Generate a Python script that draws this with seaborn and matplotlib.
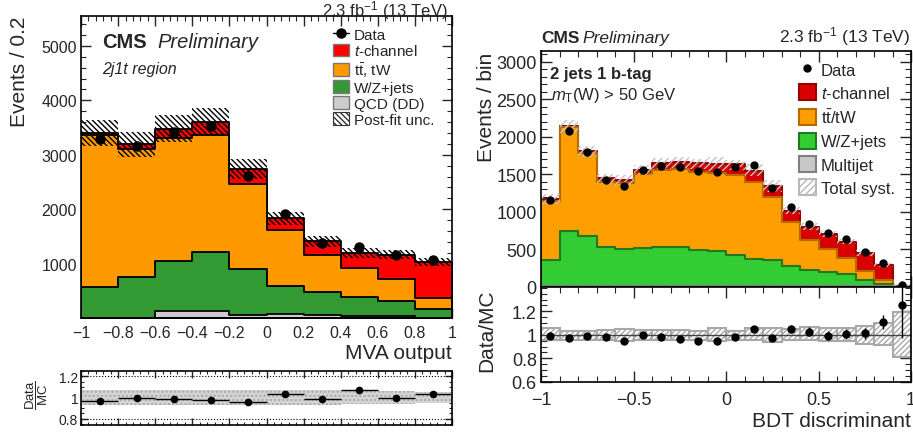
import numpy as np
import pandas as pd
import matplotlib
matplotlib.use("Agg")
import matplotlib.pyplot as plt
import seaborn as sns
from matplotlib.patches import Patch
from matplotlib.lines import Line2D
from matplotlib.ticker import MultipleLocator, FixedLocator, FuncFormatter

# ---------------- left: 2j1t region, MVA output (10 bins from -1 to 1)
mva_edges = np.linspace(-1.0, 1.0, 11)
mva_qcd = [0, 0, 125, 135, 50, 70, 50, 40, 40, 0]
mva_wzjets = [572, 761, 922, 1071, 846, 515, 425, 349, 270, 158]
mva_ttbar = [2788, 2339, 2263, 2159, 1572, 1024, 688, 525, 414, 213]
mva_tchan = [45, 90, 169, 240, 277, 225, 244, 280, 439, 659]
mva_data = [3296, 3163, 3412, 3521, 2614, 1907, 1377, 1298, 1163, 1060]
mva_unc = [235, 230, 250, 255, 185, 120, 100, 90, 85, 65]
mva_ratio = [0.968, 0.994, 0.984, 0.975, 0.956, 1.037, 0.981, 1.075, 0.991, 1.031]
mva_ratio_unc = [0.075, 0.075, 0.07, 0.07, 0.07, 0.07, 0.07, 0.065, 0.06, 0.055]

# ---------------- right: 2 jets 1 b-tag, BDT discriminant (20 bins from -1 to 1)
bdt_edges = np.linspace(-1.0, 1.0, 21)
bdt_multijet = [12, 15, 12, 10, 10, 10, 10, 10, 10, 8, 8, 8, 8, 6, 6, 5, 5, 4, 3, 1]
bdt_wzjets = [348, 732, 660, 524, 493, 510, 515, 524, 479, 463, 415, 361, 348, 266, 216, 195, 164, 89, 33, 3]
bdt_ttbar = [787, 1378, 1110, 866, 879, 978, 1031, 1031, 1044, 1041, 1066, 1022, 844, 586, 400, 303, 213, 120, 57, 4]
bdt_tchan = [18, 25, 31, 45, 40, 62, 89, 93, 112, 120, 143, 154, 147, 155, 178, 199, 218, 236, 196, 8]
bdt_data = [1150, 2080, 1791, 1418, 1346, 1551, 1605, 1600, 1547, 1533, 1592, 1618, 1316, 1058, 840, 720, 636, 458, 320, 20]
bdt_ratio = [0.991, 0.974, 0.991, 0.980, 0.943, 0.994, 0.983, 0.963, 0.946, 0.946,
             0.980, 1.048, 0.974, 1.048, 1.028, 0.991, 1.009, 1.014, 1.108, 1.255]
bdt_syst_up = [1.057, 1.034, 1.034, 1.043, 1.048, 1.043, 1.043, 1.043, 1.034, 1.057,
               1.034, 1.062, 1.057, 1.048, 1.065, 1.057, 1.057, 1.077, 1.099, 1.193]
bdt_syst_down = [0.952, 0.952, 0.952, 0.952, 0.943, 0.952, 0.952, 0.952, 0.952, 0.943,
                 0.957, 0.957, 0.935, 0.952, 0.952, 0.943, 0.943, 0.923, 0.909, 0.810]

W, H = 913, 439

sns.set_style("ticks")
plt.rcParams["font.family"] = ["Liberation Sans", "DejaVu Sans"]
plt.rcParams["mathtext.fontset"] = "custom"
plt.rcParams["mathtext.rm"] = "Liberation Sans"
plt.rcParams["mathtext.it"] = "Liberation Sans:italic"
plt.rcParams["mathtext.bf"] = "Liberation Sans:bold"
plt.rcParams["hatch.linewidth"] = 1.0


def px_axes(x0, y0, x1, y1):
    """Axes rectangle from pixel box (top-left origin)."""
    return [x0 / W, 1 - y1 / H, (x1 - x0) / W, (y1 - y0) / H]


def ftext(x, y, s, **kw):
    fig.text(x / W, 1 - y / H, s, **kw)


def tick_fmt(v, pos):
    s = f"{round(v, 6):g}"
    if s == "-0":
        s = "0"
    return s.replace("-", "\u2212")


def style_axes(ax, lsize, major=7, minor=3.5):
    ax.tick_params(which="both", direction="in", top=True, right=True, labelsize=lsize)
    ax.tick_params(which="major", length=major, width=1)
    ax.tick_params(which="minor", length=minor, width=0.8)
    for sp in ax.spines.values():
        sp.set_linewidth(1.2)
        sp.set_color("black")


def draw_stack(ax, edges, layers, colors, edgecolors, lw):
    centers = 0.5 * (edges[1:] + edges[:-1])
    cum = np.cumsum(np.array(layers, dtype=float), axis=0)
    # draw the full stack first, then each lower layer on top of it
    for i in reversed(range(len(layers))):
        df = pd.DataFrame({"x": centers, "w": cum[i]})
        sns.histplot(data=df, x="x", weights="w", bins=list(edges), element="step",
                     fill=True, color=colors[i], edgecolor=edgecolors[i],
                     linewidth=lw, alpha=1, ax=ax)
    return centers, cum[-1]


fig = plt.figure(figsize=(W / 100, H / 100), dpi=100)

# ======================= left panel =======================
ax1 = fig.add_axes(px_axes(81, 17, 452, 319))
r1 = fig.add_axes(px_axes(81, 372, 452, 426))

c1, tot1 = draw_stack(ax1, mva_edges,
                      [mva_qcd, mva_wzjets, mva_ttbar, mva_tchan],
                      ["#cccccc", "#339933", "#ff9900", "#ff0000"],
                      ["black"] * 4, 1.3)
unc1 = np.array(mva_unc)
ax1.bar(c1, 2 * unc1, bottom=tot1 - unc1, width=0.2, fill=False, hatch="\\" * 6,
        edgecolor="black", linewidth=0)
ax1.errorbar(c1, mva_data, yerr=np.sqrt(mva_data), fmt="o", color="black", ms=6.5,
             elinewidth=1, capsize=0)

ax1.set_xlim(-1, 1)
ax1.set_ylim(0.5, 5550)
ax1.xaxis.set_major_locator(MultipleLocator(0.2))
ax1.xaxis.set_minor_locator(MultipleLocator(0.04))
ax1.yaxis.set_major_locator(MultipleLocator(1000))
ax1.yaxis.set_minor_locator(MultipleLocator(200))
ax1.xaxis.set_major_formatter(FuncFormatter(tick_fmt))
style_axes(ax1, 11.5)
ax1.tick_params(axis="x", pad=5)
ax1.tick_params(axis="y", pad=3)
ax1.set_xlabel("MVA output", fontsize=15, loc="right")
ax1.xaxis.set_label_coords(1.0, -0.083)
ax1.xaxis.label.set_va("top")
ax1.set_ylabel("Events / 0.2", fontsize=15, loc="top")
ax1.yaxis.set_label_coords(-0.14, 1.0)

leg1 = [
    Line2D([], [], marker="o", color="black", ms=6.5, lw=1),
    Patch(facecolor="#ff0000", edgecolor="#777777", lw=1),
    Patch(facecolor="#ff9900", edgecolor="#777777", lw=1),
    Patch(facecolor="#339933", edgecolor="#777777", lw=1),
    Patch(facecolor="#cccccc", edgecolor="#777777", lw=1),
    Patch(facecolor="white", edgecolor="#333333", hatch="\\" * 6, lw=0.8),
]
ax1.legend(leg1, ["Data", "$t$-channel", r"$\mathrm{t\bar{t}}$, tW", "W/Z+jets",
                  "QCD (DD)", "Post-fit unc."],
           loc="upper left", bbox_to_anchor=((333 - 81) / 371, 1 - (28 - 17) / 302),
           frameon=False, fontsize=11, handlelength=1.05, handleheight=0.9,
           handletextpad=0.3, labelspacing=0.1, borderpad=0, borderaxespad=0)

# ratio
ru1 = np.array(mva_ratio_unc)
r1.bar(c1, 2 * ru1, bottom=1 - ru1, width=0.2, facecolor="#d4d4d4", hatch="....",
       edgecolor="#a8a8a8", linewidth=0)
r1.axhline(1.2, color="black", ls=":", lw=0.8)
r1.axhline(0.8, color="black", ls=":", lw=0.8)
r1.errorbar(c1, mva_ratio, xerr=0.1, fmt="o", color="black", ms=4.5, elinewidth=1, capsize=0)
r1.set_xlim(-1, 1)
r1.set_ylim(0.74, 1.25)
r1.xaxis.set_major_locator(MultipleLocator(0.2))
r1.xaxis.set_minor_locator(MultipleLocator(0.04))
r1.yaxis.set_major_locator(FixedLocator([0.8, 1.0, 1.2]))
r1.yaxis.set_minor_locator(MultipleLocator(0.05))
r1.yaxis.set_major_formatter(FuncFormatter(tick_fmt))
style_axes(r1, 10, major=5, minor=2.5)
r1.tick_params(axis="x", labelbottom=False)
r1.tick_params(axis="y", pad=2)
ftext(37, 395, r"$\dfrac{\mathrm{Data}}{\mathrm{MC}}$", fontsize=9.5, rotation=90,
      ha="center", va="center")

ftext(448, 16, r"2.3 fb$^{\mathregular{-1}}$ (13 TeV)", fontsize=12, ha="right", va="baseline")
ftext(102, 48.5, "CMS", fontsize=14.5, weight="bold", va="baseline")
ftext(157, 48.5, "Preliminary", fontsize=14.5, style="italic", va="baseline")
ftext(102, 74, "2j1t region", fontsize=11.5, style="italic", va="baseline")

# ======================= right panel =======================
ax2 = fig.add_axes(px_axes(541, 52.3, 911, 287.7))
r2 = fig.add_axes(px_axes(541, 287.7, 911, 382.7))

c2, tot2 = draw_stack(ax2, bdt_edges,
                      [bdt_multijet, bdt_wzjets, bdt_ttbar, bdt_tchan],
                      ["#c8c8c8", "#33cc33", "#ff9e00", "#d80000"],
                      ["#808080", "#1e7a1e", "#b36b00", "#990000"], 1.5)
up2 = tot2 * np.array(bdt_syst_up)
dn2 = tot2 * np.array(bdt_syst_down)
ax2.bar(c2, up2 - dn2, bottom=dn2, width=0.1, fill=False, hatch="/////",
        edgecolor="#c4c4c4", linewidth=0)
ax2.errorbar(c2, bdt_data, yerr=np.sqrt(bdt_data), fmt="o", color="black", ms=5,
             elinewidth=1, capsize=0)

ax2.set_xlim(-1, 1)
ax2.set_ylim(0, 3140)
ax2.xaxis.set_major_locator(MultipleLocator(0.5))
ax2.xaxis.set_minor_locator(MultipleLocator(0.1))
ax2.yaxis.set_major_locator(MultipleLocator(500))
ax2.yaxis.set_minor_locator(MultipleLocator(100))
style_axes(ax2, 13, major=8, minor=4)
ax2.tick_params(axis="x", labelbottom=False)
ax2.tick_params(axis="y", pad=3)
ax2.set_xlabel("")
ax2.set_ylabel("Events / bin", fontsize=15, loc="top")
ax2.yaxis.set_label_coords(-0.122, 1.0)

leg2 = [
    Line2D([], [], marker="o", color="black", ms=5, lw=0),
    Patch(facecolor="#d80000", edgecolor="#990000", lw=1.5),
    Patch(facecolor="#ff9e00", edgecolor="#b36b00", lw=1.5),
    Patch(facecolor="#33cc33", edgecolor="#1e7a1e", lw=1.5),
    Patch(facecolor="#c8c8c8", edgecolor="#808080", lw=1.5),
    Patch(facecolor="white", edgecolor="#b8b8b8", hatch="/////", lw=1.5),
]
ax2.legend(leg2, ["Data", "$t$-channel", r"$\mathrm{t\bar{t}}$/tW", "W/Z+jets",
                  "Multijet", "Total syst."],
           loc="upper left", bbox_to_anchor=((799 - 541) / 370, 1 - (62 - 52.3) / 235.4),
           frameon=False, fontsize=12, handlelength=1.0, handleheight=1.1,
           handletextpad=0.3, labelspacing=0.4, borderpad=0, borderaxespad=0)

ftext(550, 78.5, "2 jets 1 b-tag", fontsize=12, weight="bold", va="baseline")
ftext(551, 100, r"$m_{\mathrm{T}}$(W) > 50 GeV", fontsize=12, va="baseline")

# ratio
lo2 = np.array(bdt_syst_down)
hi2 = np.array(bdt_syst_up)
r2.bar(c2, hi2 - lo2, bottom=lo2, width=0.1, facecolor="white", hatch="//////",
       edgecolor="#a8a8a8", linewidth=1.5)
r2.axhline(1.0, color="#444444", lw=1)
ratio_err = np.sqrt(bdt_data) / tot2
r2.errorbar(c2, bdt_ratio, yerr=ratio_err, fmt="o", color="black", ms=5,
            elinewidth=1, capsize=0)
r2.set_xlim(-1, 1)
r2.set_ylim(0.6, 1.41)
r2.xaxis.set_major_locator(MultipleLocator(0.5))
r2.xaxis.set_minor_locator(MultipleLocator(0.1))
r2.yaxis.set_major_locator(FixedLocator([0.6, 0.8, 1.0, 1.2]))
r2.yaxis.set_minor_locator(MultipleLocator(0.05))
r2.xaxis.set_major_formatter(FuncFormatter(tick_fmt))
r2.yaxis.set_major_formatter(FuncFormatter(tick_fmt))
style_axes(r2, 13, major=8, minor=4)
r2.tick_params(axis="x", pad=7)
r2.tick_params(axis="y", pad=3)
r2.set_xlabel("BDT discriminant", fontsize=15, loc="right")
r2.xaxis.set_label_coords(1.0, -0.31)
r2.xaxis.label.set_va("top")
r2.set_ylabel("Data/MC", fontsize=15)
r2.yaxis.set_label_coords(-0.122, 0.55)

ftext(541, 42.7, "CMS", fontsize=12.5, weight="bold", va="baseline")
ftext(582, 42.7, "Preliminary", fontsize=12.5, style="italic", va="baseline")
ftext(910, 42.7, r"2.3 fb$^{\mathregular{-1}}$ (13 TeV)", fontsize=12.5, ha="right", va="baseline")

fig.savefig("out.png", dpi=100)
